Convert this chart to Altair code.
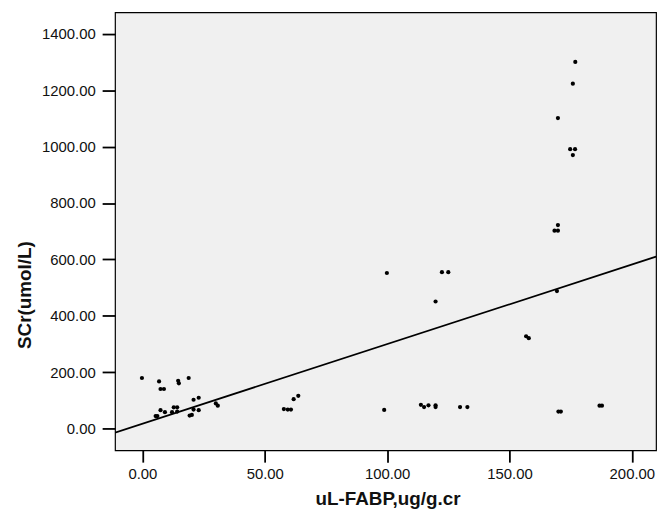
import altair as alt
import pandas as pd

# Scatter values
UFABP = [-0.2, 6.8, 7.4, 8.8, 14.6, 14.9, 18.9, 20.9, 23.0,
         5.4, 6.1, 7.4, 9.2, 12.1, 12.8, 14.2, 14.2, 19.3, 20.2, 20.9, 23.0,
         30.0, 30.8, 57.8, 59.4, 60.7, 61.8, 63.7,
         99.9, 122.4, 125.0, 119.8, 98.8, 113.8, 115.1, 116.9, 119.8, 119.8, 129.8, 132.8,
         176.9, 175.9, 169.8, 174.8, 176.8, 175.9, 169.8, 168.4, 169.8, 169.4,
         156.8, 157.9, 170.0, 171.0, 186.8, 187.8]
SCR = [180, 168, 141, 141, 170, 161, 180, 103, 110,
       45, 45, 66, 59, 59, 76, 76, 61, 47, 49, 68, 66,
       90, 82, 70, 68, 68, 105, 117,
       552, 555, 555, 451, 67, 85, 77, 83, 83, 77, 77, 77,
       1300, 1223, 1101, 991, 991, 970, 722, 702, 702, 488,
       328, 321, 61, 61, 82, 82]

# Fit line
FIT_INTERCEPT = 18.0
FIT_SLOPE = 2.82

X_DOMAIN = [-11.2, 209.9]
Y_DOMAIN = [-76, 1476]
X_TICKS = [0, 50, 100, 150, 200]
Y_TICKS = [0, 200, 400, 600, 800, 1000, 1200, 1400]

pts = pd.DataFrame({"x": UFABP, "y": SCR})
fit = pd.DataFrame({"x": X_DOMAIN})
fit["y"] = FIT_INTERCEPT + FIT_SLOPE * fit["x"]

FONT = "Liberation Sans"

xscale = alt.Scale(domain=X_DOMAIN, nice=False, zero=False)
yscale = alt.Scale(domain=Y_DOMAIN, nice=False, zero=False)

xaxis = alt.Axis(values=X_TICKS, format=".2f", tickSize=12, tickWidth=1.8,
                 tickColor="black", domain=False, grid=False,
                 labelFontSize=15, labelColor="#111", labelFont=FONT,
                 labelPadding=5,
                 title="uL-FABP,ug/g.cr", titleFont=FONT, titleFontSize=19,
                 titleFontWeight="bold", titleColor="#111",
                 titleX=275, titleY=55, titleBaseline="alphabetic",
                 titleAlign="center")
yaxis = alt.Axis(values=Y_TICKS, format=".2f", tickSize=13, tickWidth=1.8,
                 tickColor="black", domain=False, grid=False,
                 labelFontSize=15, labelColor="#111", labelFont=FONT,
                 labelPadding=7,
                 title="SCr(umol/L)", titleFont=FONT, titleFontSize=19,
                 titleFontWeight="bold", titleColor="#111",
                 titleX=-91, titleY=285, titleAngle=270,
                 titleAlign="center", titleBaseline="middle")

points = alt.Chart(pts).mark_circle(size=18, color="black", opacity=1).encode(
    x=alt.X("x:Q", scale=xscale, axis=xaxis),
    y=alt.Y("y:Q", scale=yscale, axis=yaxis),
)
line = alt.Chart(fit).mark_line(color="black", strokeWidth=1.8, clip=True).encode(
    x=alt.X("x:Q", scale=xscale),
    y=alt.Y("y:Q", scale=yscale),
)

chart = (points + line).properties(
    width=546, height=442,
    autosize=alt.AutoSizeParams(type="none"),
    padding={"left": 108, "top": 2, "right": 5, "bottom": 58},
    background="white",
).configure_view(fill="#f0f0f0", stroke="black", strokeWidth=1.2)

chart.save("out.html", embed_options={"renderer": "svg", "actions": False})
